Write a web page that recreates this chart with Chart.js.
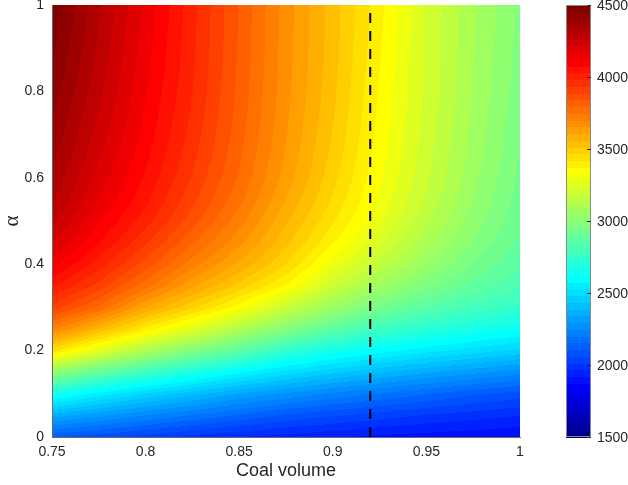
<!DOCTYPE html>
<html>
<head>
<meta charset="utf-8">
<script src="https://cdn.jsdelivr.net/npm/chart.js@4.4.1/dist/chart.umd.min.js"></script>
<style>
  html, body { margin: 0; padding: 0; background: #fff; }
  #wrap { width: 628px; height: 485px; }
</style>
</head>
<body>
<div id="wrap"><canvas id="heatChart" width="628" height="485"></canvas></div>
<script>
// grid nodes
const coalVolume = [0.75, 0.775, 0.8, 0.825, 0.85, 0.875, 0.9, 0.925, 0.95, 0.975, 1.0];
const alphaLevels = [0, 0.05, 0.1, 0.15, 0.2, 0.25, 0.3, 0.35, 0.4, 0.45, 0.5,
                     0.55, 0.6, 0.65, 0.7, 0.75, 0.8, 0.85, 0.9, 0.95, 1];

// one row per alpha level, one column per coal volume
const costGrid = [
    [2120, 2080, 2040, 2000, 1970, 1950, 1930, 1910, 1900, 1890, 1880],
    [2370, 2310, 2250, 2200, 2150, 2100, 2070, 2040, 2010, 1990, 1970],
    [2660, 2560, 2480, 2410, 2340, 2290, 2240, 2200, 2160, 2120, 2090],
    [3030, 2890, 2780, 2680, 2590, 2510, 2450, 2400, 2350, 2310, 2270],
    [3440, 3270, 3110, 2980, 2870, 2740, 2660, 2600, 2550, 2510, 2470],
    [3720, 3560, 3400, 3270, 3120, 2990, 2870, 2780, 2720, 2670, 2630],
    [3920, 3790, 3610, 3480, 3350, 3190, 3060, 2940, 2860, 2800, 2750],
    [4040, 3920, 3770, 3620, 3500, 3370, 3200, 3070, 2970, 2890, 2820],
    [4140, 4010, 3870, 3725, 3600, 3470, 3305, 3170, 3050, 2950, 2865],
    [4220, 4080, 3945, 3805, 3670, 3530, 3380, 3240, 3110, 2995, 2895],
    [4280, 4130, 4005, 3865, 3725, 3570, 3430, 3290, 3150, 3025, 2915],
    [4320, 4170, 4045, 3905, 3765, 3610, 3462, 3318, 3178, 3048, 2930],
    [4350, 4200, 4070, 3932, 3790, 3635, 3485, 3335, 3195, 3062, 2942],
    [4375, 4225, 4090, 3952, 3805, 3650, 3500, 3347, 3206, 3072, 2952],
    [4395, 4245, 4105, 3966, 3816, 3660, 3512, 3356, 3214, 3080, 2960],
    [4415, 4263, 4118, 3977, 3824, 3667, 3521, 3363, 3219, 3086, 2967],
    [4435, 4278, 4128, 3985, 3830, 3672, 3528, 3370, 3223, 3091, 2973],
    [4450, 4292, 4137, 3991, 3834, 3675, 3533, 3376, 3226, 3094, 2978],
    [4465, 4303, 4145, 3995, 3837, 3677, 3537, 3381, 3228, 3097, 2983],
    [4478, 4312, 4153, 3998, 3839, 3679, 3539, 3386, 3229, 3099, 2987],
    [4490, 4320, 4160, 4000, 3840, 3680, 3540, 3390, 3230, 3100, 2990]
];

const xTicks = [0.75, 0.8, 0.85, 0.9, 0.95, 1];
const yTicks = [0, 0.2, 0.4, 0.6, 0.8, 1];
const colorbarTicks = [1500, 2000, 2500, 3000, 3500, 4000, 4500];
const colorRange = [1500, 4500];

// dashed marker
const markerX = [0.92, 0.92];
const markerY = [0, 1];

const textColor = '#262626';
const fontFamily = "'Liberation Sans', Arial, sans-serif";

/**
 * MATLAB style jet colormap with m entries
 */
function jetColors(m) {
    const n = Math.ceil(m / 4);
    const u = [];
    for (let i = 1; i <= n; i++) u.push(i / n);
    for (let i = 1; i < n; i++) u.push(1);
    for (let i = n; i >= 1; i--) u.push(i / n);
    const off = Math.ceil(n / 2) - (m % 4 === 1 ? 1 : 0);
    const cols = [];
    for (let i = 0; i < m; i++) cols.push([0, 0, 0]);
    u.forEach((val, k) => {
        const g = off + k + 1;
        const r = g + n;
        const b = g - n;
        if (r >= 1 && r <= m) cols[r - 1][0] = val;
        if (g >= 1 && g <= m) cols[g - 1][1] = val;
        if (b >= 1 && b <= m) cols[b - 1][2] = val;
    });
    return cols.map(c => c.map(v => Math.round(v * 255)));
}

const jet = jetColors(64);

function clamp(v, lo, hi) {
    return Math.max(lo, Math.min(hi, v));
}

function sampleGrid(xv, av) {
    let i = 0;
    while (i < coalVolume.length - 2 && xv > coalVolume[i + 1]) i++;
    let j = 0;
    while (j < alphaLevels.length - 2 && av > alphaLevels[j + 1]) j++;
    const tx = clamp((xv - coalVolume[i]) / (coalVolume[i + 1] - coalVolume[i]), 0, 1);
    const ty = clamp((av - alphaLevels[j]) / (alphaLevels[j + 1] - alphaLevels[j]), 0, 1);
    const lo = costGrid[j][i] * (1 - tx) + costGrid[j][i + 1] * tx;
    const hi = costGrid[j + 1][i] * (1 - tx) + costGrid[j + 1][i + 1] * tx;
    return lo * (1 - ty) + hi * ty;
}

function colorFor(v) {
    const k = Math.floor((v - colorRange[0]) / (colorRange[1] - colorRange[0]) * jet.length);
    return jet[clamp(k, 0, jet.length - 1)];
}

const contourPlugin = {
    id: 'contourFill',
    beforeDraw(chart) {
        const area = chart.chartArea;
        const xs = chart.scales.x;
        const ys = chart.scales.y;
        const w = Math.round(area.right - area.left);
        const h = Math.round(area.bottom - area.top);
        const off = document.createElement('canvas');
        off.width = w;
        off.height = h;
        const octx = off.getContext('2d');
        const img = octx.createImageData(w, h);
        for (let py = 0; py < h; py++) {
            const av = ys.getValueForPixel(area.top + py + 0.5);
            for (let px = 0; px < w; px++) {
                const xv = xs.getValueForPixel(area.left + px + 0.5);
                const c = colorFor(sampleGrid(xv, av));
                const p = (py * w + px) * 4;
                img.data[p] = c[0];
                img.data[p + 1] = c[1];
                img.data[p + 2] = c[2];
                img.data[p + 3] = 255;
            }
        }
        octx.putImageData(img, 0, 0);
        chart.ctx.drawImage(off, area.left, area.top);
    },
    afterDraw(chart) {
        // colorbar
        const ctx = chart.ctx;
        const cb = chart.scales.cb;
        const area = chart.chartArea;
        const left = area.right + 46;
        const width = 25;
        const top = cb.getPixelForValue(colorRange[1]);
        const bottom = cb.getPixelForValue(colorRange[0]);
        const step = (bottom - top) / jet.length;
        ctx.save();
        jet.forEach((c, k) => {
            const y0 = bottom - (k + 1) * step;
            ctx.fillStyle = 'rgb(' + c.join(',') + ')';
            ctx.fillRect(left, Math.floor(y0), width, Math.ceil(step) + 1);
        });
        ctx.strokeStyle = '#8a8a8a';
        ctx.lineWidth = 1;
        ctx.strokeRect(left + 0.5, top + 0.5, width - 1, bottom - top - 1);

        ctx.strokeStyle = textColor;
        ctx.fillStyle = textColor;
        ctx.font = '14px ' + fontFamily;
        ctx.textAlign = 'left';
        ctx.textBaseline = 'middle';
        colorbarTicks.forEach(v => {
            const y = Math.round(cb.getPixelForValue(v)) + 0.5;
            ctx.beginPath();
            ctx.moveTo(left + width - 4, y);
            ctx.lineTo(left + width, y);
            ctx.stroke();
            ctx.fillText(String(v), left + width + 6, y + 1);
        });
        ctx.restore();
    }
};

const ctx = document.getElementById('heatChart');
new Chart(ctx, {
    type: 'scatter',
    data: {
        datasets: [{
            type: 'line',
            data: markerX.map((x, i) => ({ x: x, y: markerY[i] })),
            borderColor: '#000',
            borderWidth: 2,
            borderDash: [10, 8],
            pointRadius: 0,
            fill: false
        }]
    },
    options: {
        responsive: false,
        animation: false,
        devicePixelRatio: 1,
        layout: {
            padding: { top: 5, right: 108, left: 0, bottom: 0 }
        },
        plugins: {
            legend: { display: false },
            tooltip: { enabled: false }
        },
        scales: {
            x: {
                type: 'linear',
                min: 0.75,
                max: 1,
                afterFit(scale) {
                    scale.height = 48;
                    scale.paddingLeft = 0;
                    scale.paddingRight = 0;
                },
                afterBuildTicks(scale) { scale.ticks = xTicks.map(v => ({ value: v })); },
                ticks: {
                    callback: v => String(v),
                    font: { family: fontFamily, size: 14 },
                    color: textColor,
                    padding: 7,
                    maxRotation: 0
                },
                grid: { display: false, drawTicks: false },
                border: { display: true, color: '#6a6a6a', width: 1 },
                title: {
                    display: true,
                    text: 'Coal volume',
                    font: { family: fontFamily, size: 18 },
                    color: textColor,
                    padding: { top: 0, bottom: 3 }
                }
            },
            y: {
                type: 'linear',
                min: 0,
                max: 1,
                afterFit(scale) {
                    scale.width = 52;
                    scale.paddingTop = 0;
                    scale.paddingBottom = 0;
                },
                afterBuildTicks(scale) { scale.ticks = yTicks.map(v => ({ value: v })); },
                ticks: {
                    callback: v => String(v),
                    font: { family: fontFamily, size: 14 },
                    color: textColor,
                    padding: 8
                },
                grid: { display: false, drawTicks: false },
                border: { display: true, color: '#6a6a6a', width: 1 },
                title: {
                    display: true,
                    text: 'α',
                    font: { family: "'Liberation Serif', serif", size: 21 },
                    color: textColor,
                    padding: { top: 0, bottom: 0 }
                }
            },
            cb: {
                type: 'linear',
                position: 'right',
                display: false,
                min: colorRange[0],
                max: colorRange[1]
            }
        }
    },
    plugins: [contourPlugin]
});
</script>
</body>
</html>
